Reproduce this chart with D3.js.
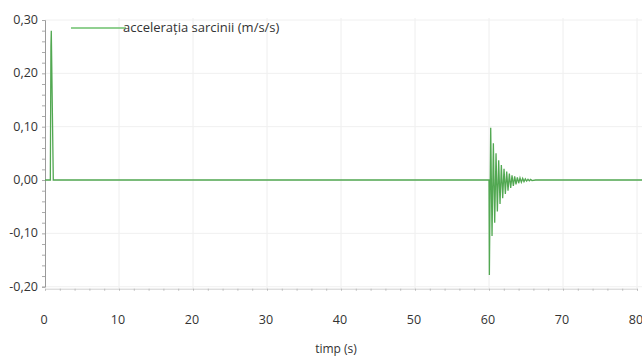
<!DOCTYPE html>
<html lang="ro">
<head>
<meta charset="UTF-8">
<title>acceleratia sarcinii</title>
<script src="https://d3js.org/d3.v7.min.js"></script>
<style>
  body { margin: 0; background: #fff; }
  text { font-family: "Open Sans", "DejaVu Sans", sans-serif; fill: #333; }
</style>
</head>
<body>
<script>
const width = 642
const height = 358

// date
const seriesName = "accelerația sarcinii (m/s/s)"
const xLabel = "timp (s)"
const xTicks = [0, 10, 20, 30, 40, 50, 60, 70, 80]
const yTicks = [-0.2, -0.1, 0, 0.1, 0.2, 0.3]

const times = [0, 0.72, 0.8, 0.85, 1.12, 60.0,
  60.05, 60.23, 60.41, 60.59, 60.77, 60.95, 61.13, 61.31, 61.49, 61.67, 61.85,
  62.03, 62.21, 62.39, 62.57, 62.75, 62.93, 63.11, 63.29, 63.47, 63.65, 63.83,
  64.01, 64.19, 64.37, 64.55, 64.73, 64.91, 65.09, 65.27, 65.45, 65.63, 65.81,
  66.3, 81]
const accel = [0, 0, 0.25, 0.28, 0, 0,
  -0.178, 0.098, -0.105, 0.069, -0.080, 0.050, -0.059, 0.037, -0.045, 0.028, -0.034,
  0.021, -0.026, 0.016, -0.020, 0.012, -0.015, 0.009, -0.011, 0.007, -0.008, 0.005,
  -0.006, 0.004, -0.004, 0.003, -0.003, 0.002, -0.002, 0.0015, -0.0015, 0.001, -0.001,
  0, 0]

const data = times.map((t, i) => ({ t: t, v: accel[i] }))

const x = d3.scaleLinear().domain([0, 80]).range([45, 637])
const y = d3.scaleLinear().domain([-0.2, 0.3]).range([286.7, 20])

const fmt = v => d3.format(".2f")(v).replace(".", ",").replace("−", "-")

const svg = d3.select("body").append("svg")
    .attr("width", width)
    .attr("height", height)

// grila
svg.append("g").selectAll("line")
    .data(xTicks.filter(d => d > 0))
    .enter().append("line")
    .attr("x1", d => x(d)).attr("x2", d => x(d))
    .attr("y1", y(0.3) - 2).attr("y2", y(-0.2) + 2)
    .attr("stroke", "#eeeeee")

svg.append("g").selectAll("line")
    .data(yTicks)
    .enter().append("line")
    .attr("x1", x(0)).attr("x2", width)
    .attr("y1", d => y(d)).attr("y2", d => y(d))
    .attr("stroke", "#f0f0f0")

// axa y
const yAxis = svg.append("g")
    .attr("transform", `translate(${x(0)},0)`)
    .call(d3.axisLeft(y).tickValues(d3.range(-0.2, 0.301, 0.02)).tickSize(3).tickFormat(""))
yAxis.select(".domain").attr("stroke", "#9a9a9a")
yAxis.selectAll(".tick line").attr("stroke", "#aaa")

svg.append("g").selectAll("text")
    .data(yTicks)
    .enter().append("text")
    .attr("x", 38)
    .attr("y", d => y(d) + 4)
    .attr("text-anchor", "end")
    .style("font-size", "12.5px")
    .text(fmt)

// axa x
const xAxis = svg.append("g")
    .attr("transform", `translate(0,${y(-0.2) + 2})`)
    .call(d3.axisBottom(x).tickValues(d3.range(0, 80.1, 2)).tickSize(2).tickFormat(""))
xAxis.select(".domain").attr("stroke", "#cfcfcf")
xAxis.selectAll(".tick line").attr("stroke", "#bbb")

svg.append("g").selectAll("text")
    .data(xTicks)
    .enter().append("text")
    .attr("x", d => x(d) - 1)
    .attr("y", 324)
    .attr("text-anchor", "middle")
    .style("font-size", "12.5px")
    .text(d => d)

svg.append("text")
    .attr("x", 336)
    .attr("y", 353)
    .attr("text-anchor", "middle")
    .style("font-size", "12px")
    .text(xLabel)

// seria
const line = d3.line()
    .x(d => x(d.t))
    .y(d => y(d.v))

svg.append("path")
    .datum(data)
    .attr("fill", "none")
    .attr("stroke", "#52a852")
    .attr("stroke-width", 1.3)
    .attr("d", line)

// legenda
svg.append("line")
    .attr("x1", 71).attr("x2", 126)
    .attr("y1", 28).attr("y2", 28)
    .attr("stroke", "#6cc06c")
    .attr("stroke-width", 1.5)

svg.append("text")
    .attr("x", 123)
    .attr("y", 32)
    .style("font-size", "13px")
    .text(seriesName)
</script>
</body>
</html>
